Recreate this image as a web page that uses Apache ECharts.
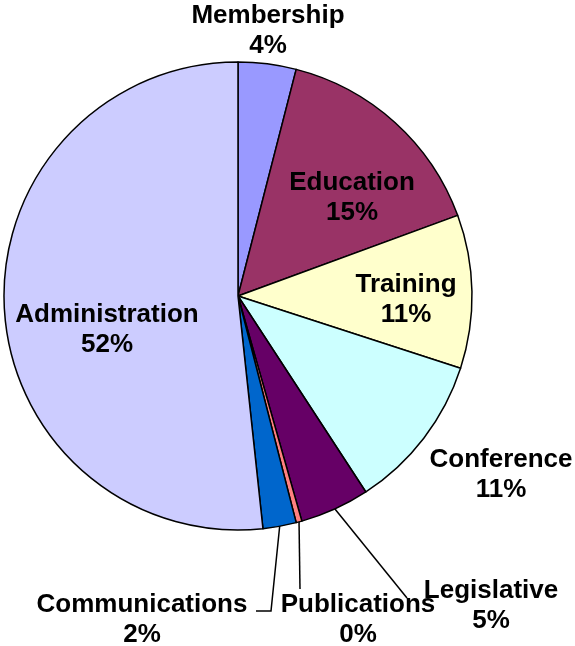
<!DOCTYPE html>
<html>
<head>
<meta charset="utf-8">
<script src="https://cdn.jsdelivr.net/npm/echarts@6/dist/echarts.min.js"></script>
<style>html,body{margin:0;padding:0;background:#fff}#main{width:575px;height:646px}</style>
</head>
<body>
<div id="main"></div>
<script>
var categories = ['Membership', 'Education', 'Training', 'Conference', 'Legislative', 'Publications', 'Communications', 'Administration'];
var shares = [4.0, 15.4, 10.6, 10.8, 4.8, 0.4, 2.3, 51.7];
var colors = ['#9999FF', '#993366', '#FFFFCC', '#CCFFFF', '#660066', '#FF8080', '#0066CC', '#CCCCFF'];

// where each label block is centred (px)
var labelPos = [[268, 31], [352, 198], [406, 300], [501, 475], [491, 606], [358, 620], [142, 620], [107, 330]];
// leader line bends / ends for the labels that have one
var leader = {
    4: [[407, 598], [407, 598]],
    5: [[300, 589], [300, 589]],
    6: [[271, 611], [256, 611]]
};

var chart = echarts.init(document.getElementById('main'));

var pieData = [];
for (var i = 0; i < categories.length; i++) {
    pieData.push({
        name: categories[i],
        value: shares[i],
        itemStyle: {color: colors[i]},
        labelLine: {show: !!leader[i]}
    });
}

chart.setOption({
    animation: false,
    backgroundColor: '#fff',
    series: [{
        type: 'pie',
        center: [238, 296],
        radius: 234,
        startAngle: 90,
        clockwise: true,
        avoidLabelOverlap: false,
        itemStyle: {borderColor: '#000', borderWidth: 1.5},
        label: {
            show: true,
            position: 'outside',
            formatter: function (p) {
                return p.name + '\n' + Math.round(p.percent) + '%';
            },
            fontFamily: 'Liberation Sans',
            fontWeight: 'bold',
            fontSize: 26,
            lineHeight: 30,
            color: '#000',
            align: 'center'
        },
        labelLine: {
            show: false,
            length: 10,
            length2: 10,
            lineStyle: {color: '#000', width: 1.5}
        },
        labelLayout: function (params) {
            var idx = params.dataIndex;
            var res = {
                x: labelPos[idx][0],
                y: labelPos[idx][1],
                align: 'center',
                verticalAlign: 'middle'
            };
            if (leader[idx] && params.labelLinePoints) {
                var start = params.labelLinePoints[0];
                res.labelLinePoints = [start, leader[idx][0], leader[idx][1]];
            }
            return res;
        },
        data: pieData
    }]
});
</script>
</body>
</html>
